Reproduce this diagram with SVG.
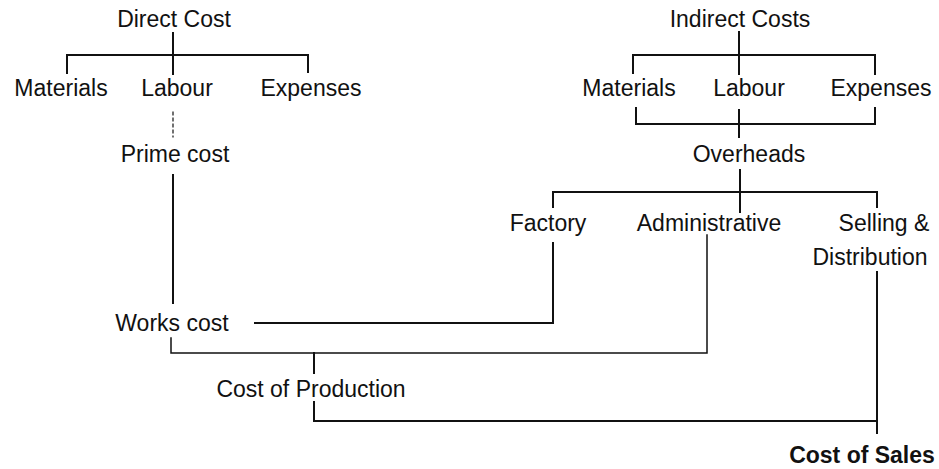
<svg xmlns="http://www.w3.org/2000/svg" width="939" height="469" viewBox="0 0 939 469">
<style>
text{font-family:"Liberation Sans",Arial,sans-serif;font-size:23px;fill:#111;text-anchor:middle}
.b{font-weight:bold}
.c{fill:none;stroke:#111;stroke-width:2;stroke-linecap:square}
.t{stroke-width:1.5}
.d{stroke-width:1.2;stroke-dasharray:3 3}
</style>
<rect width="939" height="469" fill="#fff"/>
<g id="connectors">
<path class="c" d="M173 33V74M67 73V55H308V72"/>
<path class="c d" d="M173 112V137"/>
<path class="c" d="M173 175V303"/>
<path class="c" d="M739 32V74M633 73V55H875V74"/>
<path class="c" d="M636 108V124H875V108M739 110V137"/>
<path class="c" d="M740 170V212M553 207V192H877V207"/>
<path class="c" d="M255 323H553V243"/>
<path class="c t" d="M707 235V353H171V338"/>
<path class="c" d="M314 353V373"/>
<path class="c" d="M314 402V421H877M877 272V433"/>
</g>
<g id="direct-cost"><text x="174" y="27">Direct Cost</text></g>
<g id="d-materials"><text x="61" y="96">Materials</text></g>
<g id="d-labour"><text x="177" y="96">Labour</text></g>
<g id="d-expenses"><text x="311" y="96">Expenses</text></g>
<g id="prime-cost"><text x="175" y="162">Prime cost</text></g>
<g id="works-cost"><text x="172" y="331">Works cost</text></g>
<g id="cost-of-production"><text x="311" y="397">Cost of Production</text></g>
<g id="indirect-costs"><text x="740" y="27">Indirect Costs</text></g>
<g id="i-materials"><text x="629" y="96">Materials</text></g>
<g id="i-labour"><text x="749" y="96">Labour</text></g>
<g id="i-expenses"><text x="881" y="96">Expenses</text></g>
<g id="overheads"><text x="749" y="162">Overheads</text></g>
<g id="factory"><text x="548" y="231">Factory</text></g>
<g id="administrative"><text x="709" y="231">Administrative</text></g>
<g id="selling"><text x="884" y="231">Selling &amp;</text><text x="870" y="265">Distribution</text></g>
<g id="cost-of-sales"><text class="b" x="862" y="463">Cost of Sales</text></g>
</svg>
